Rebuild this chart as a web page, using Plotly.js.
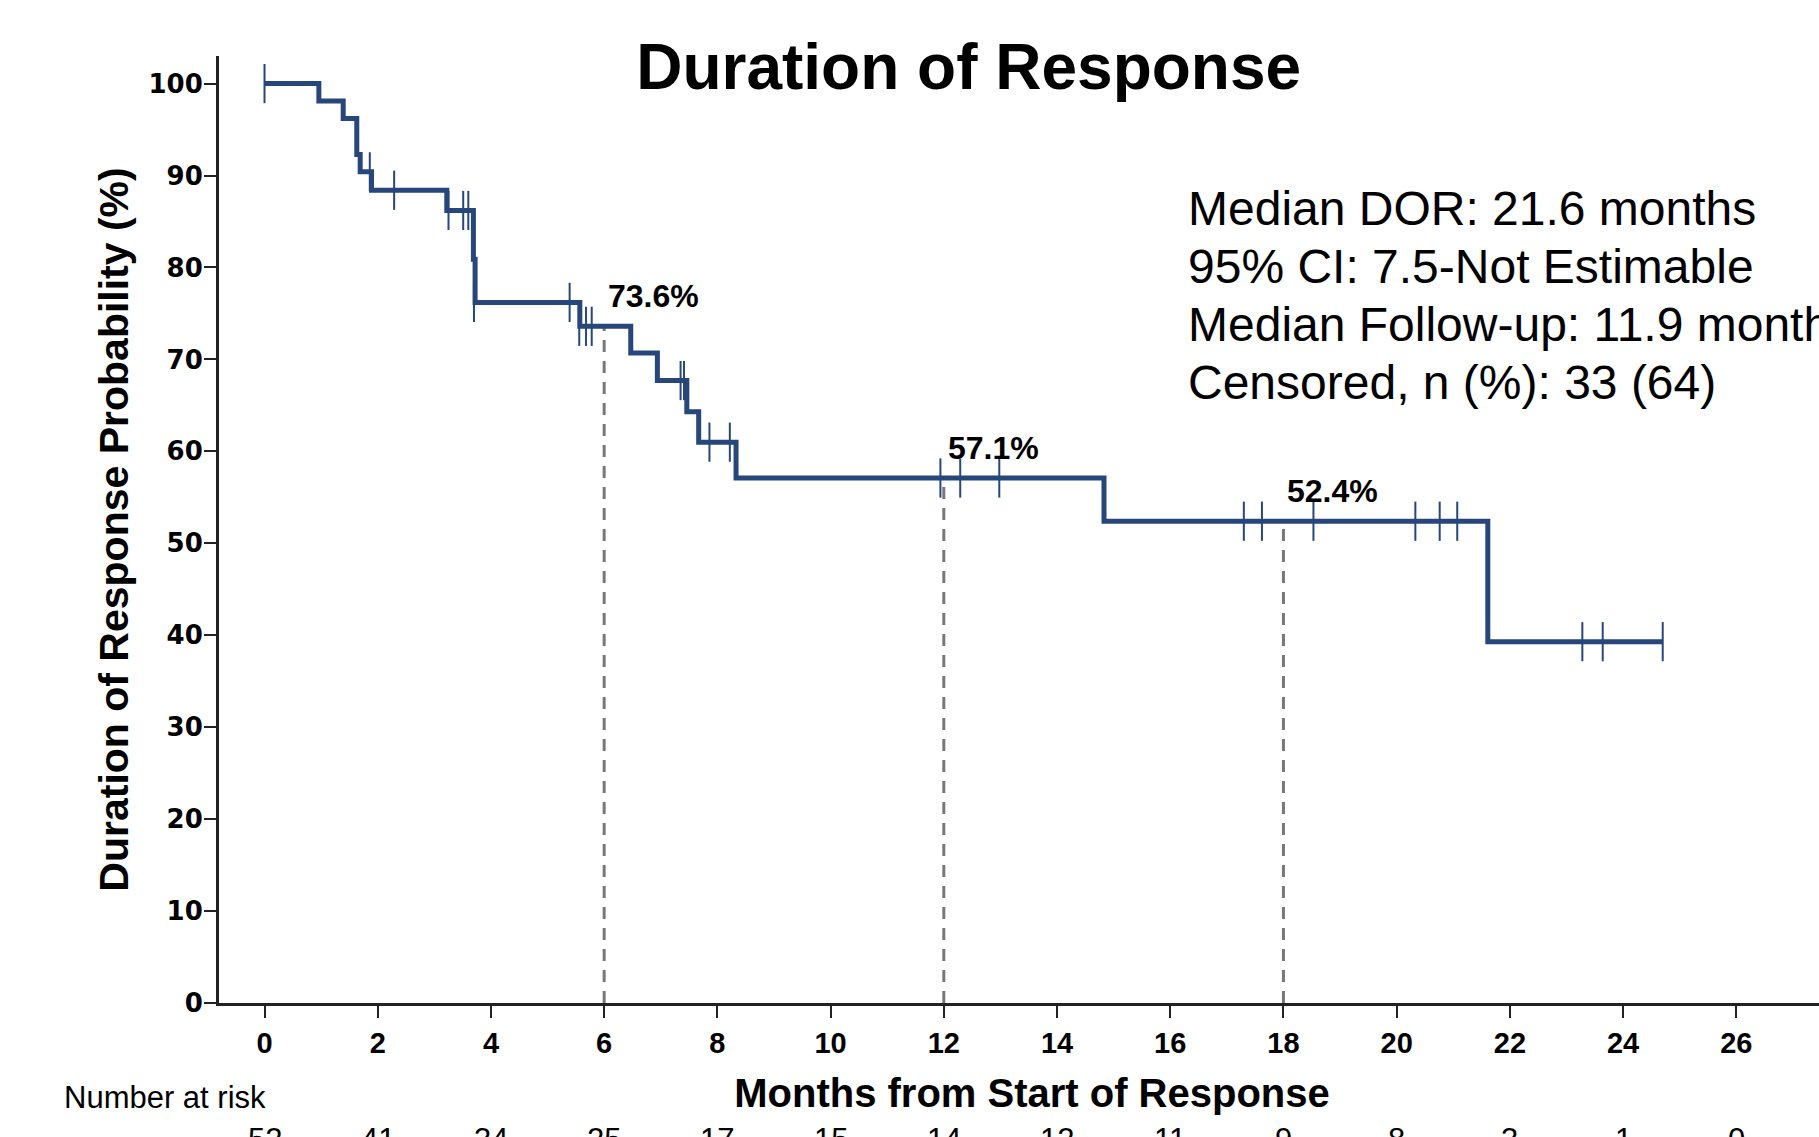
<!DOCTYPE html>
<html>
<head>
<meta charset="utf-8">
<script src="https://cdn.plot.ly/plotly-3.0.1.min.js"></script>
<style>
html,body{margin:0;padding:0;overflow:hidden;background:#fff;}
#chart{width:1845px;height:1137px;}
</style>
</head>
<body>
<div id="chart"></div>
<script>
// Kaplan-Meier step curve (event times, months) and survival (%)
const stepTimes = [0, 0.96, 1.39, 1.63, 1.69, 1.89, 3.22, 3.69, 3.72, 5.57, 6.47, 6.94, 7.46, 7.67, 8.33, 14.83, 21.61, 24.70];
const stepSurv  = [100, 98.1, 96.2, 92.3, 90.4, 88.4, 86.2, 80.9, 76.2, 73.6, 70.7, 67.7, 64.3, 61.0, 57.1, 52.4, 39.3, 39.3];

// Censoring marks
const censorTimes = [0, 1.86, 2.29, 3.25, 3.51, 3.60, 3.70, 5.39, 5.56, 5.68, 5.78, 7.35, 7.41, 7.86, 8.22, 11.94, 12.29, 12.98, 17.30, 17.62, 18.53, 20.33, 20.76, 21.07, 23.28, 23.64, 24.70];
const censorSurv  = [100, 90.4, 88.4, 86.2, 86.2, 86.2, 76.2, 76.2, 73.6, 73.6, 73.6, 67.7, 67.7, 61.0, 61.0, 57.1, 57.1, 57.1, 52.4, 52.4, 52.4, 52.4, 52.4, 52.4, 39.3, 39.3, 39.3];

// Landmark estimates
const landmarkTimes = [6, 12, 18];
const landmarkSurv  = [73.6, 57.1, 52.4];
const landmarkLabels = ['73.6%', '57.1%', '52.4%'];

// Axis ticks
const xTicks = [0, 2, 4, 6, 8, 10, 12, 14, 16, 18, 20, 22, 24, 26];
const yTicks = [0, 10, 20, 30, 40, 50, 60, 70, 80, 90, 100];

// Number at risk
const riskTimes  = [0, 2, 4, 6, 8, 10, 12, 14, 16, 18, 20, 22, 24, 26];
const riskCounts = [52, 41, 34, 25, 17, 15, 14, 12, 11, 9, 8, 3, 1, 0];

// Summary text
const summaryLines = [
  'Median DOR: 21.6 months',
  '95% CI: 7.5-Not Estimable',
  'Median Follow-up: 11.9 months',
  'Censored, n (%): 33 (64)'
];

const NAVY = '#27467a';
const ARIAL = 'Arial, "Liberation Sans", sans-serif';

const traces = [];
// dashed landmark lines
landmarkTimes.forEach((t, i) => {
  traces.push({
    x: [t, t], y: [0, landmarkSurv[i]],
    mode: 'lines', type: 'scatter', hoverinfo: 'skip', showlegend: false,
    line: {color: '#787878', width: 3, dash: '12px,9px'}
  });
});
traces.push({
  x: stepTimes, y: stepSurv, type: 'scatter', mode: 'lines',
  line: {color: NAVY, width: 5, shape: 'hv'}, showlegend: false
});
traces.push({
  x: censorTimes, y: censorSurv, type: 'scatter', mode: 'markers',
  marker: {symbol: 'line-ns-open', size: 28, color: NAVY, line: {color: NAVY, width: 2}},
  showlegend: false, cliponaxis: false
});

const annotations = [];
landmarkTimes.forEach((t, i) => {
  annotations.push({
    x: t, y: landmarkSurv[i], xref: 'x', yref: 'y', text: landmarkLabels[i],
    showarrow: false, xanchor: 'left', yanchor: 'middle', xshift: 2, yshift: 30,
    font: {family: ARIAL, size: 32, color: '#000', weight: 'bold'}
  });
});
const summaryY = [0.8392, 0.7780, 0.7167, 0.6555];
summaryLines.forEach((s, i) => {
  annotations.push({
    x: 0.5945, y: summaryY[i], xref: 'paper', yref: 'paper', text: s,
    showarrow: false, xanchor: 'left', yanchor: 'middle',
    font: {family: ARIAL, size: 48, color: '#000'}
  });
});
annotations.push({
  x: -0.0965, y: -0.0993, xref: 'paper', yref: 'paper', text: 'Number at risk',
  showarrow: false, xanchor: 'left', yanchor: 'middle',
  font: {family: ARIAL, size: 31, color: '#000'}
});
riskTimes.forEach((t, i) => {
  annotations.push({
    x: t, y: -0.1442, xref: 'x', yref: 'paper', text: String(riskCounts[i]),
    showarrow: false, xanchor: 'center', yanchor: 'middle',
    font: {family: ARIAL, size: 31, color: '#000'}
  });
});

const layout = {
  width: 1845, height: 1137,
  margin: {l: 219, r: 0, t: 56, b: 134},
  paper_bgcolor: '#fff', plot_bgcolor: '#fff',
  title: {
    text: 'Duration of Response', x: 0.525, xanchor: 'center', xref: 'container',
    y: 0.941, yanchor: 'middle', yref: 'container',
    font: {family: ARIAL, size: 64, color: '#000', weight: 'bold'}
  },
  xaxis: {
    range: [-0.804, 27.92], tickvals: xTicks, ticktext: xTicks.map(String),
    showgrid: false, zeroline: false, showline: true, linecolor: '#222', linewidth: 3,
    ticks: 'outside', ticklen: 12, tickwidth: 2, tickcolor: '#222',
    tickfont: {family: ARIAL, size: 29, color: '#000', weight: 'bold'},
    title: {text: 'Months from Start of Response', standoff: 22,
      font: {family: ARIAL, size: 40, color: '#000', weight: 'bold'}},
    automargin: false
  },
  yaxis: {
    range: [0, 103], tickvals: yTicks, ticktext: yTicks.map(String),
    showgrid: false, zeroline: false, showline: true, linecolor: '#222', linewidth: 3,
    ticks: 'outside', ticklen: 12, tickwidth: 2, tickcolor: '#222',
    ticklabelstandoff: -4,
    tickfont: {family: '"DejaVu Sans", Verdana, sans-serif', size: 26, color: '#000', weight: 'bold'},
    title: {text: 'Duration of Response Probability (%)', standoff: 8,
      font: {family: ARIAL, size: 41, color: '#000', weight: 'bold'}},
    automargin: false
  },
  annotations: annotations,
  showlegend: false
};

Plotly.newPlot('chart', traces, layout, {displayModeBar: false, staticPlot: true});
</script>
</body>
</html>
